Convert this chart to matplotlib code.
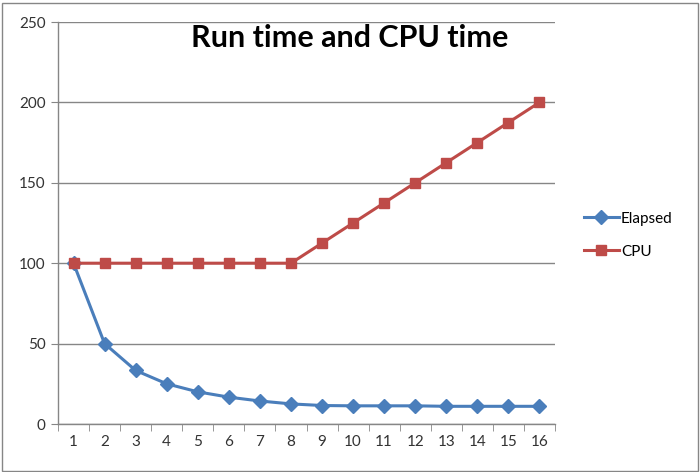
import matplotlib
matplotlib.use("Agg")
import matplotlib.pyplot as plt
from matplotlib.patches import Rectangle

categories = [str(i) for i in range(1, 17)]
elapsed = [100, 50, 33.3, 25, 20, 16.7, 14.3, 12.5, 11.5, 11.3, 11.3, 11.3, 11, 11, 11, 11]
cpu = [100, 100, 100, 100, 100, 100, 100, 100, 112.5, 125, 137.5, 150, 162.5, 175, 187.5, 200]
yticks = [0, 50, 100, 150, 200, 250]

plt.rcParams['font.family'] = ['Lato', 'DejaVu Sans']

fig = plt.figure(figsize=(7, 4.72), dpi=100)
ax = fig.add_axes([58/700, 48/472, (555-58)/700, (424-22)/472])

x = list(range(1, len(categories) + 1))
ax.plot(x, elapsed, color='#4A7EBB', lw=2.2, marker='D', ms=7, label='Elapsed', zorder=3)
ax.plot(x, cpu, color='#BE4B48', lw=2.2, marker='s', ms=7.5, label='CPU', zorder=3)

ax.set_xlim(0.5, len(categories) + 0.5)
ax.set_ylim(0, 250)
ax.set_yticks(yticks)
ax.set_yticklabels([str(v) for v in yticks])
ax.yaxis.grid(True, color='#868686', lw=1)
ax.set_axisbelow(True)

ax.set_xticks(x)
ax.set_xticklabels(categories)
ax.set_xticks([i + 0.5 for i in range(0, len(categories) + 1)], minor=True)
ax.tick_params(axis='x', which='major', length=0, pad=8)
ax.tick_params(axis='x', which='minor', length=5, color='#868686', direction='out')
ax.tick_params(axis='y', length=5, color='#868686', direction='out', pad=4)
ax.tick_params(labelsize=11, labelcolor='#333333')

for s in ['top', 'right']:
    ax.spines[s].set_visible(False)
for s in ['left', 'bottom']:
    ax.spines[s].set_color('#868686')
    ax.spines[s].set_linewidth(1)

fig.text(350/700, 1 - 38/472, 'Run time and CPU time', ha='center', va='center',
         fontsize=22, fontweight='bold', color='black')

ax.legend(loc='center left', bbox_to_anchor=(1.03, 0.47), frameon=False,
          fontsize=11, handlelength=2.3, labelspacing=1.25, handletextpad=0.15)

fig.patches.append(Rectangle((1.5/700, 1.5/472), 696/700, 468/472, transform=fig.transFigure,
                             fill=False, edgecolor='#868686', lw=1))

fig.savefig('out.png', dpi=100)
